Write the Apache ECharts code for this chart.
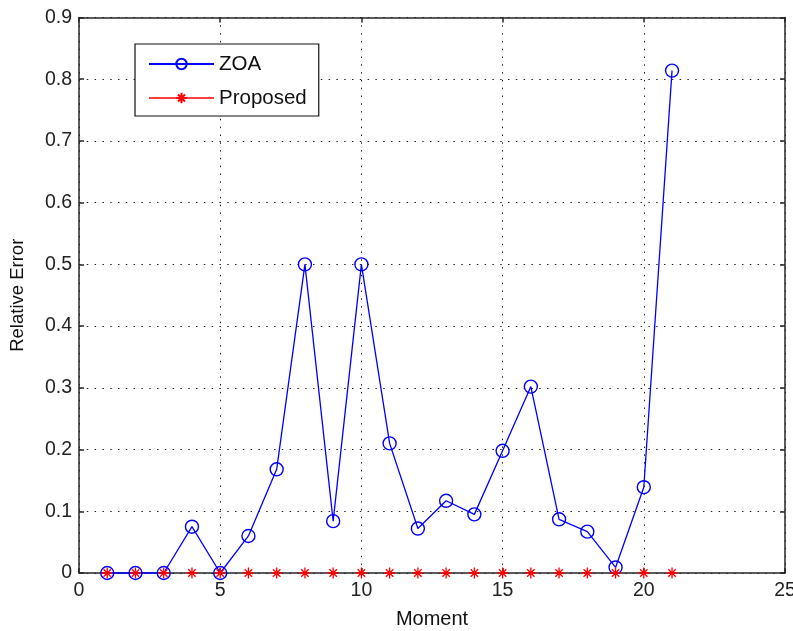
<!DOCTYPE html>
<html>
<head>
<meta charset="utf-8">
<script src="https://cdn.jsdelivr.net/npm/echarts@6/dist/echarts.min.js"></script>
<style>html,body{margin:0;padding:0;background:#fff;}#main{width:793px;height:631px;}</style>
</head>
<body>
<div id="main"></div>
<script>
const moments = [1,2,3,4,5,6,7,8,9,10,11,12,13,14,15,16,17,18,19,20,21];
const zoaValues = [0,0,0,0.075,0,0.060,0.168,0.500,0.084,0.500,0.210,0.072,0.117,0.095,0.198,0.302,0.087,0.067,0.009,0.139,0.814];
const proposedValues = [0,0,0,0,0,0,0,0,0,0,0,0,0,0,0,0,0,0,0,0,0];
const xTicks = [0,5,10,15,20,25];
const yTicks = [0,0.1,0.2,0.3,0.4,0.5,0.6,0.7,0.8,0.9];

const font = '"Liberation Sans", Arial, Helvetica, sans-serif';
const chart = echarts.init(document.getElementById('main'));
const gridLine = {show:true, lineStyle:{color:'#222', width:1, type:[1.5,6.3]}};
const axisLineStyle = {show:true, onZero:false, lineStyle:{color:'#262626', width:1.5}};
const tickStyle = {show:true, inside:true, length:5, lineStyle:{color:'#262626', width:1.5}};
const asterisk = 'path://M0,5L10,5M5,0L5,10M1.6,1.6L8.4,8.4M8.4,1.6L1.6,8.4';

chart.setOption({
  animation:false,
  backgroundColor:'#fff',
  grid:{left:79, top:17.5, right:8, bottom:58, containLabel:false, outerBoundsMode:'none'},
  legend:{
    orient:'vertical', left:135, top:44,
    backgroundColor:'#fff', borderColor:'#111', borderWidth:1.2,
    padding:[9.5,12,7.5,13], itemGap:13,
    itemWidth:65, itemHeight:13,
    textStyle:{fontFamily:font, fontSize:20.5, color:'#111', lineHeight:19},
    data:[
      {name:'ZOA'},
      {name:'Proposed', lineStyle:{opacity:1, color:'#ff0000', width:1.3}}
    ]
  },
  xAxis:[{
    type:'value', min:0, max:25, interval:5,
    name:'Moment', nameLocation:'middle', nameGap:36,
    nameTextStyle:{fontFamily:font, fontSize:20, color:'#111'},
    axisLine:axisLineStyle, axisTick:tickStyle,
    axisLabel:{fontFamily:font, fontSize:19.5, color:'#222', margin:8,
      formatter:v=>xTicks.includes(v)?String(v):''},
    splitLine:gridLine
  },{
    type:'value', min:0, max:25, interval:5, position:'top',
    axisLine:axisLineStyle, axisTick:tickStyle,
    axisLabel:{show:false}, splitLine:{show:false}
  }],
  yAxis:[{
    type:'value', min:0, max:0.9, interval:0.1,
    name:'Relative Error', nameLocation:'middle', nameGap:52, nameRotate:90,
    nameTextStyle:{fontFamily:font, fontSize:18.5, color:'#111'},
    axisLine:axisLineStyle, axisTick:tickStyle,
    axisLabel:{fontFamily:font, fontSize:19.5, color:'#222', margin:7,
      formatter:v=>{const r=Math.round(v*10)/10; return yTicks.includes(r)?(r===0?'0':r.toFixed(1)):'';}},
    splitLine:gridLine
  },{
    type:'value', min:0, max:0.9, interval:0.1, position:'right',
    axisLine:axisLineStyle, axisTick:tickStyle,
    axisLabel:{show:false}, splitLine:{show:false}
  }],
  series:[{
    name:'ZOA', type:'line', clip:false,
    data:moments.map((m,i)=>[m,zoaValues[i]]),
    symbol:'circle', symbolSize:13,
    lineStyle:{color:'#0000ff', width:1.3},
    itemStyle:{color:'rgba(0,0,0,0)', borderColor:'#0000ff', borderWidth:1.4},
    z:3
  },{
    name:'Proposed', type:'line', clip:false,
    data:moments.map((m,i)=>[m,proposedValues[i]]),
    symbol:asterisk, symbolSize:11,
    lineStyle:{color:'#ff0000', width:1.3, opacity:0},
    itemStyle:{color:'#ff0000', borderColor:'#ff0000', borderWidth:1.3},
    z:4
  }]
});
</script>
</body>
</html>
